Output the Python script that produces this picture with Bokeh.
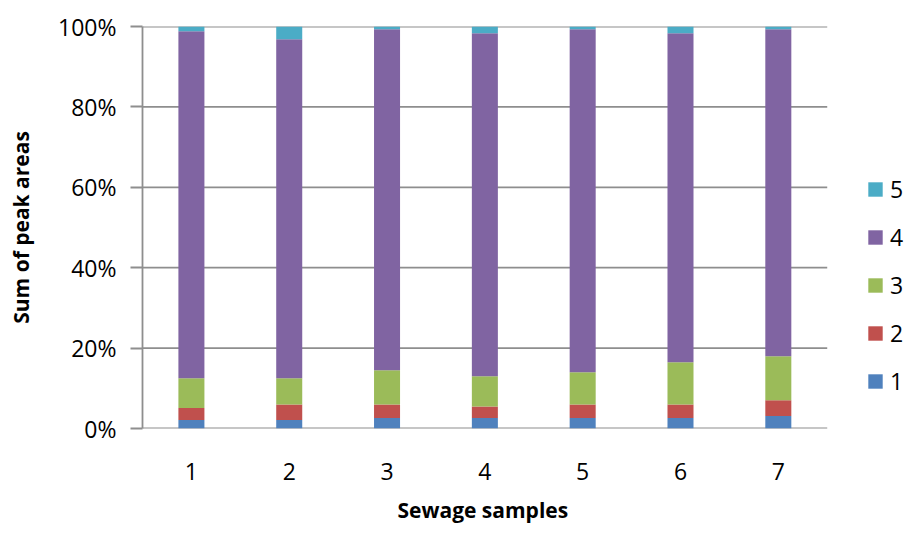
from bokeh.plotting import figure
from bokeh.models import (ColumnDataSource, FixedTicker, PrintfTickFormatter,
                          Legend, LegendItem, Range1d, Title)
from bokeh.embed import file_html
from bokeh.resources import INLINE

# Sewage samples and the share (%) of the summed peak area for each peak group
samples = ["1", "2", "3", "4", "5", "6", "7"]
sample_pos = [1, 2, 3, 4, 5, 6, 7]
peak1 = [2.1, 2.1, 2.6, 2.6, 2.6, 2.6, 3.1]
peak2 = [3.0, 3.9, 3.4, 2.9, 3.4, 3.4, 3.9]
peak3 = [7.4, 6.5, 8.5, 7.5, 8.0, 10.5, 11.0]
peak4 = [86.3, 84.3, 84.8, 85.3, 85.3, 81.8, 81.3]
peak5 = [1.2, 3.2, 0.7, 1.7, 0.7, 1.7, 0.7]

groups = ["1", "2", "3", "4", "5"]
colors = ["#4F81BD", "#C0504D", "#9BBB59", "#8064A2", "#4BACC6"]
y_ticks = [0, 20, 40, 60, 80, 100]

source = ColumnDataSource(data=dict(x=sample_pos, g1=peak1, g2=peak2,
                                    g3=peak3, g4=peak4, g5=peak5))

FONT = "Open Sans"
GRID = "#8e8e8e"

# The frame runs to the right edge so the legend can sit beside the bars;
# the categories occupy 0.5 .. 7.5 and the gridlines stop there.
p = figure(x_range=Range1d(0.5, 8.29), y_range=Range1d(0, 100),
           width=904, height=535,
           output_backend="svg", toolbar_location=None,
           min_border_left=142, min_border_right=0,
           min_border_top=26, min_border_bottom=107)

# Horizontal gridlines (0% doubles as the category axis line)
n = len(y_ticks)
p.segment(x0=[0.5] * n, x1=[7.5] * n, y0=y_ticks, y1=y_ticks,
          line_color=GRID, line_width=1.8)

stack = ["g1", "g2", "g3", "g4", "g5"]
renderers = p.vbar_stack(stack, x="x", width=0.266, color=colors,
                         line_color=None, source=source)

# Axes
p.yaxis.ticker = FixedTicker(ticks=y_ticks)
p.yaxis.formatter = PrintfTickFormatter(format="%d%%")
p.yaxis.major_tick_out = 12
p.yaxis.major_tick_in = 0
p.yaxis.minor_tick_line_color = None
p.yaxis.axis_line_color = GRID
p.yaxis.axis_line_width = 1.8
p.yaxis.major_tick_line_color = GRID
p.yaxis.major_tick_line_width = 1.8
p.yaxis.major_label_standoff = 14
p.yaxis.axis_label = "Sum of peak areas"
p.yaxis.axis_label_standoff = 20

p.xaxis.ticker = FixedTicker(ticks=sample_pos)
p.xaxis.major_label_overrides = {pos: s for pos, s in zip(sample_pos, samples)}
p.xaxis.major_tick_line_color = None
p.xaxis.minor_tick_line_color = None
p.xaxis.axis_line_color = None
p.xaxis.major_label_standoff = 28

for ax in (p.xaxis, p.yaxis):
    ax.major_label_text_font = FONT
    ax.major_label_text_font_size = "23px"
    ax.major_label_text_color = "#000000"
p.yaxis.axis_label_text_font = FONT
p.yaxis.axis_label_text_font_size = "21px"
p.yaxis.axis_label_text_font_style = "bold"
p.yaxis.axis_label_text_color = "#000000"

# Category axis title, centred under the bars rather than the whole frame
x_title = Title(text="Sewage samples", align="left", offset=255, standoff=22,
                text_font=FONT, text_font_size="21px", text_font_style="bold",
                text_color="#000000")
p.add_layout(x_title, "below")

p.xgrid.grid_line_color = None
p.ygrid.grid_line_color = None
p.outline_line_color = None

# Legend, top entry is the top segment of the stack
items = [LegendItem(label=g, renderers=[r]) for g, r in zip(groups, renderers)][::-1]
legend = Legend(items=items, location=(724, 31), orientation="vertical",
                glyph_width=18, glyph_height=18, label_height=28,
                spacing=16, padding=0, margin=0, label_standoff=6,
                border_line_color=None, background_fill_alpha=0,
                label_text_font=FONT, label_text_font_size="23px",
                label_text_color="#000000")
p.add_layout(legend, "center")

open("out.html", "w").write(file_html(p, INLINE))
